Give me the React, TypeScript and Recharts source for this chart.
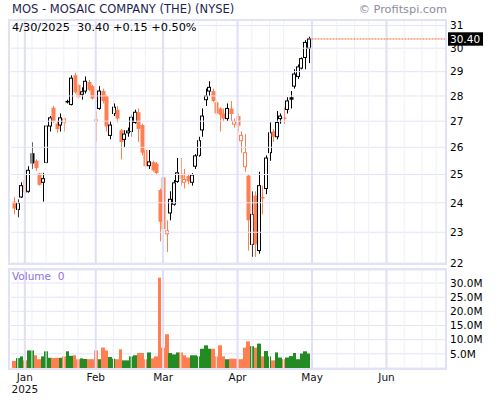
import React from "react";
import { ComposedChart, Bar, XAxis, YAxis, CartesianGrid, ReferenceLine } from "recharts";

const FONT = '"DejaVu Sans", Verdana, sans-serif';
const CORAL = "#ff7f50";
const GREEN = "#228b22";
const INK = "#000000";

// trading-day index: 0 = Dec 27 2024, 3 = Jan 2, 83 = Apr 30 2025
const opens = [
  24.04, 23.77, 24.2, 24.8, 24.4, 25.78, 25.5, 25.04, 24.72, 25.44,
  26.81, 27.53, 26.91, 26.85, 26.94, 27.8, 27.66, 28.85, 28.45, 28.07,
  28.2, 28.57, 28.4, 27.0, 27.5, 28.2, 28.0, 26.45, 27.3, 27.45,
  26.65, 26.3, 26.55, 26.6, 26.95, 27.35, 26.85, 25.9, 25.32, 25.45,
  25.4, 24.45, 24.9, 22.95, 23.65, 23.95, 24.75, 25.03, 24.72, 24.95,
  24.72, 25.3, 25.7, 26.66, 27.85, 28.2, 28.2, 27.75, 27.5, 27.3,
  27.1, 27.5, 26.88, 27.2, 26.25, 25.28, 24.96, 22.6, 24.25, 22.4,
  24.2, 24.5, 25.8, 26.6, 26.4, 27.1, 27.15, 27.46, 27.95, 28.4,
  28.8, 29.15, 29.6, 30.0,
];
const highs = [
  24.2, 24.12, 24.72, 25.0, 25.3, 26.19, 25.56, 25.06, 25.06, 26.85,
  27.2, 27.6, 27.0, 27.3, 27.13, 27.85, 28.85, 28.95, 28.5, 28.35,
  28.8, 28.65, 28.45, 27.4, 28.4, 28.3, 28.05, 27.0, 27.7, 27.6,
  26.7, 26.65, 26.75, 27.25, 27.45, 27.5, 26.9, 25.95, 25.9, 25.5,
  25.45, 24.5, 24.95, 23.4, 24.4, 24.8, 25.6, 25.6, 25.2, 25.0,
  25.05, 25.75, 26.4, 27.5, 28.3, 28.6, 28.3, 27.85, 27.55, 27.5,
  27.7, 27.8, 27.1, 27.3, 26.6, 26.5, 25.0, 24.4, 24.4, 25.1,
  24.6, 25.7, 26.95, 26.7, 27.4, 27.3, 27.55, 27.95, 28.2, 29.1,
  29.3, 29.6, 30.35, 30.5,
];
const lows = [
  23.6, 23.5, 24.17, 24.32, 24.35, 25.2, 25.13, 24.6, 24.04, 25.4,
  26.6, 26.94, 26.55, 26.6, 26.6, 27.7, 27.62, 28.1, 27.9, 27.85,
  28.1, 28.2, 27.85, 26.2, 27.45, 27.7, 26.6, 26.3, 27.2, 26.95,
  25.55, 26.0, 26.4, 26.4, 26.9, 26.2, 25.7, 25.2, 25.2, 25.1,
  25.0, 22.7, 22.5, 22.35, 23.4, 23.9, 24.7, 24.6, 24.5, 24.65,
  24.6, 25.2, 25.65, 26.4, 27.6, 28.0, 27.75, 27.2, 26.6, 27.0,
  27.0, 27.0, 26.75, 26.6, 25.8, 25.1, 22.4, 22.2, 22.2, 22.3,
  23.6, 24.3, 25.5, 26.2, 26.3, 26.9, 26.9, 27.3, 27.5, 28.3,
  28.7, 29.1, 29.1, 29.36,
];
const closes = [
  23.8, 23.98, 24.6, 24.35, 25.15, 25.4, 25.23, 24.63, 24.85, 26.81,
  27.13, 27.0, 26.69, 27.13, 27.09, 27.75, 28.73, 28.15, 27.95, 28.17,
  28.6, 28.25, 27.9, 27.05, 28.2, 27.8, 26.8, 26.85, 27.55, 27.1,
  26.2, 26.5, 26.62, 27.15, 27.35, 26.7, 25.8, 25.3, 25.46, 25.15,
  25.05, 23.35, 23.1, 23.05, 24.12, 24.7, 25.06, 24.85, 24.82, 24.75,
  24.98, 25.68, 26.25, 27.2, 28.0, 28.35, 27.8, 27.3, 27.25, 27.1,
  27.5, 27.28, 27.0, 26.82, 26.45, 25.8, 23.4, 23.6, 22.6, 24.6,
  24.15, 25.6, 26.55, 26.4, 26.95, 27.2, 27.1, 27.8, 27.85, 28.9,
  29.2, 29.55, 30.25, 30.4,
];
// volume in millions of shares
const volumes = [
  2.5, 3.5, 4.1, 2.7, 6.2, 6.2, 4.5, 3.1, 4.1, 5.9,
  3.6, 3.5, 3.6, 3.6, 4.1, 5.9, 4.3, 4.5, 3.1, 3.4,
  3.2, 3.1, 3.1, 6.2, 3.1, 7.2, 6.2, 3.9, 3.3, 3.1,
  6.6, 2.7, 2.7, 4.1, 4.5, 5.3, 5.3, 3.1, 5.5, 3.4,
  4.1, 31.9, 7.2, 11.9, 5.3, 4.8, 5.5, 5.5, 4.5, 3.7,
  4.5, 4.5, 4.1, 6.8, 8.0, 6.8, 6.8, 4.1, 8.0, 4.1,
  3.1, 3.3, 3.3, 3.3, 3.1, 7.2, 9.4, 7.7, 7.2, 8.6,
  4.1, 6.0, 4.1, 2.7, 5.5, 3.7, 3.1, 3.7, 4.2, 5.3,
  3.1, 5.1, 5.9, 5.1,
];
const priorClose = 24.1;

const monthTicks = [3, 23, 42, 63, 84, 105];
const monthLabels = ["Jan", "Feb", "Mar", "Apr", "May", "Jun"];
const weekTicks = [1, 5, 9, 14, 18, 28, 33, 37, 47, 52, 57, 67, 72, 76, 91, 96, 100, 110, 115, 119];
const priceTicks = [22, 23, 24, 25, 26, 27, 28, 29, 30, 31];
const volumeTicks = [5, 10, 15, 20, 25, 30];
const xDomain = [-0.9, 121.5];
const priceDomain = [21.97, 31.2];
const volumeDomain = [0, 34.6];

const data = opens.map((open, i) => {
  const prev = i === 0 ? priorClose : closes[i - 1];
  return {
    i,
    open,
    high: highs[i],
    low: lows[i],
    close: closes[i],
    volume: volumes[i],
    up: closes[i] >= prev,
  };
});
const last = data[data.length - 1];
const prevClose = closes[closes.length - 2];
const change = last.close - prevClose;

const Candle = (props: any) => {
  const { x, y, width, height, payload } = props;
  if (x == null || y == null) return null;
  const cx = Math.round(x + width / 2) + 0.5;
  const top = Math.min(y, y + height);
  const bottom = Math.max(y, y + height);
  const { open, close, high, low, up } = payload;
  const span = Math.log(high) - Math.log(low) || 1;
  const yOf = (p: number) => top + ((Math.log(high) - Math.log(p)) / span) * (bottom - top);
  const color = up ? INK : CORAL;
  const bTop = yOf(Math.max(open, close));
  const bBot = Math.max(yOf(Math.min(open, close)), bTop + 1);
  if (close > open) {
    return (
      <g>
        <line x1={cx} x2={cx} y1={top} y2={bTop} stroke={color} strokeWidth={1} />
        <line x1={cx} x2={cx} y1={bBot} y2={bottom} stroke={color} strokeWidth={1} />
        <rect x={cx - 2} y={bTop} width={3} height={bBot - bTop} fill="#ffffff" stroke={color} strokeWidth={1} />
      </g>
    );
  }
  return (
    <g>
      <line x1={cx} x2={cx} y1={top} y2={bottom} stroke={color} strokeWidth={1} />
      <rect x={cx - 2} y={bTop} width={4} height={Math.max(bBot - bTop, 1.5)} fill={color} />
    </g>
  );
};

const VolumeBar = (props: any) => {
  const { x, y, width, height, payload } = props;
  if (x == null || y == null) return null;
  const c = x + width / 2;
  const left = Math.round(c - 1.8);
  const right = Math.round(c + 1.8);
  return <rect x={left} y={y} width={right - left} height={height} fill={payload.up ? GREEN : CORAL} />;
};

// price axis labels; the last close gets the black tag drawn over the labels
const PriceTick = (props: any) => {
  const { x, y, payload } = props;
  if (payload.value === last.close) {
    return (
      <g>
        <rect x={x - 2} y={y - 6.7} width={35} height={13.4} fill="#000000" />
        <text x={x} y={y} dy="0.36em" fill="#ffffff" fontSize={10.5} fontFamily={FONT}>
          {last.close.toFixed(2)}
        </text>
      </g>
    );
  }
  return (
    <text x={x} y={y} dy="0.36em" fill="#000" fontSize={10.5} fontFamily={FONT}>
      {payload.value}
    </text>
  );
};

const MonthTick = (props: any) => {
  const { x, y, payload } = props;
  const idx = monthTicks.indexOf(payload.value);
  return (
    <g>
      <text x={x} y={y + 12.7} textAnchor="middle" fill="#111" fontSize={10.5} fontFamily={FONT}>
        {monthLabels[idx]}
      </text>
      {idx === 0 && (
        <text x={x} y={y + 25.3} textAnchor="middle" fill="#111" fontSize={10.5} fontFamily={FONT}>
          2025
        </text>
      )}
    </g>
  );
};

const verticalLines = () => [
  ...weekTicks.map((w) => (
    <ReferenceLine key={`w${w}`} x={w} stroke="#edf0fb" strokeWidth={1} />
  )),
  ...monthTicks.map((m) => (
    <ReferenceLine key={`m${m}`} x={m} stroke="#dfdff6" strokeWidth={2} />
  )),
];

const frame = (top: number, height: number): React.CSSProperties => ({
  position: "absolute",
  left: 8,
  top,
  width: 439,
  height,
  border: "2px solid #e2e2f7",
  boxSizing: "border-box",
  pointerEvents: "none",
});

const tickStyle = { fill: "#000", fontSize: 10.5, fontFamily: FONT };

export default function App() {
  return (
    <div style={{ position: "absolute", left: 0, top: 0, width: 500, height: 400, background: "#fff", fontFamily: FONT }}>
      <div style={{ position: "absolute", left: 0, top: 0 }}>
        <ComposedChart width={500} height={270} data={data} margin={{ top: 21, right: 0, bottom: 6, left: 11 }}>
          {priceTicks.map((t) => (
            <ReferenceLine key={`h${t}`} y={t} stroke="#e4e4f7" strokeWidth={1} />
          ))}
          {verticalLines()}
          <XAxis dataKey="i" type="number" domain={xDomain} allowDataOverflow hide />
          <YAxis
            orientation="right"
            width={55}
            scale="log"
            domain={priceDomain}
            allowDataOverflow
            ticks={[...priceTicks, last.close]}
            interval={0}
            axisLine={false}
            tickLine={false}
            tickSize={0}
            tickMargin={5}
            tick={<PriceTick />}
          />
          <ReferenceLine
            segment={[{ x: last.i, y: last.close }, { x: xDomain[1], y: last.close }]}
            stroke="#e8662e"
            strokeDasharray="2 1"
          />
          <Bar dataKey={(d: any) => [d.low, d.high]} shape={Candle} isAnimationActive={false} />
        </ComposedChart>
      </div>
      <div style={{ position: "absolute", left: 0, top: 0 }}>
        <ComposedChart width={500} height={400} data={data} margin={{ top: 270, right: 0, bottom: 0, left: 11 }}>
          <CartesianGrid vertical={false} stroke="#e4e4f7" />
          {verticalLines()}
          <XAxis
            dataKey="i"
            type="number"
            domain={xDomain}
            allowDataOverflow
            ticks={monthTicks}
            height={32}
            axisLine={false}
            tickLine={false}
            tickSize={0}
            tickMargin={0}
            tick={<MonthTick />}
            interval={0}
          />
          <YAxis
            orientation="right"
            width={55}
            domain={volumeDomain}
            allowDataOverflow
            ticks={volumeTicks}
            interval={0}
            tickFormatter={(v: number) => `${v.toFixed(1)}M`}
            axisLine={false}
            tickLine={false}
            tickSize={0}
            tickMargin={5}
            tick={tickStyle}
          />
          <Bar dataKey="volume" shape={VolumeBar} isAnimationActive={false} />
        </ComposedChart>
      </div>
      <div style={frame(19, 246)} />
      <div style={frame(268, 102)} />
      <svg width={500} height={400} style={{ position: "absolute", left: 0, top: 0, pointerEvents: "none" }}>
        <text x={12} y={13.3} fontSize={11.5} fill="#1e1e50" fontFamily={FONT}>
          MOS - MOSAIC COMPANY (THE) (NYSE)
        </text>
        <text x={447} y={13} fontSize={11.3} fill="#8c8ca0" textAnchor="end" fontFamily={FONT}>
          © Profitspi.com
        </text>
        <text x={12} y={30.5} fontSize={11.3} fill="#000" fontFamily={FONT} style={{ whiteSpace: "pre" }}>
          {`4/30/2025  ${last.close.toFixed(2)} +${change.toFixed(2)} +${((change / prevClose) * 100).toFixed(2)}%`}
        </text>
        <text x={12} y={279.5} fontSize={10.5} fill="#9370db" fontFamily={FONT} style={{ whiteSpace: "pre" }}>
          {"Volume  0"}
        </text>
      </svg>
    </div>
  );
}
